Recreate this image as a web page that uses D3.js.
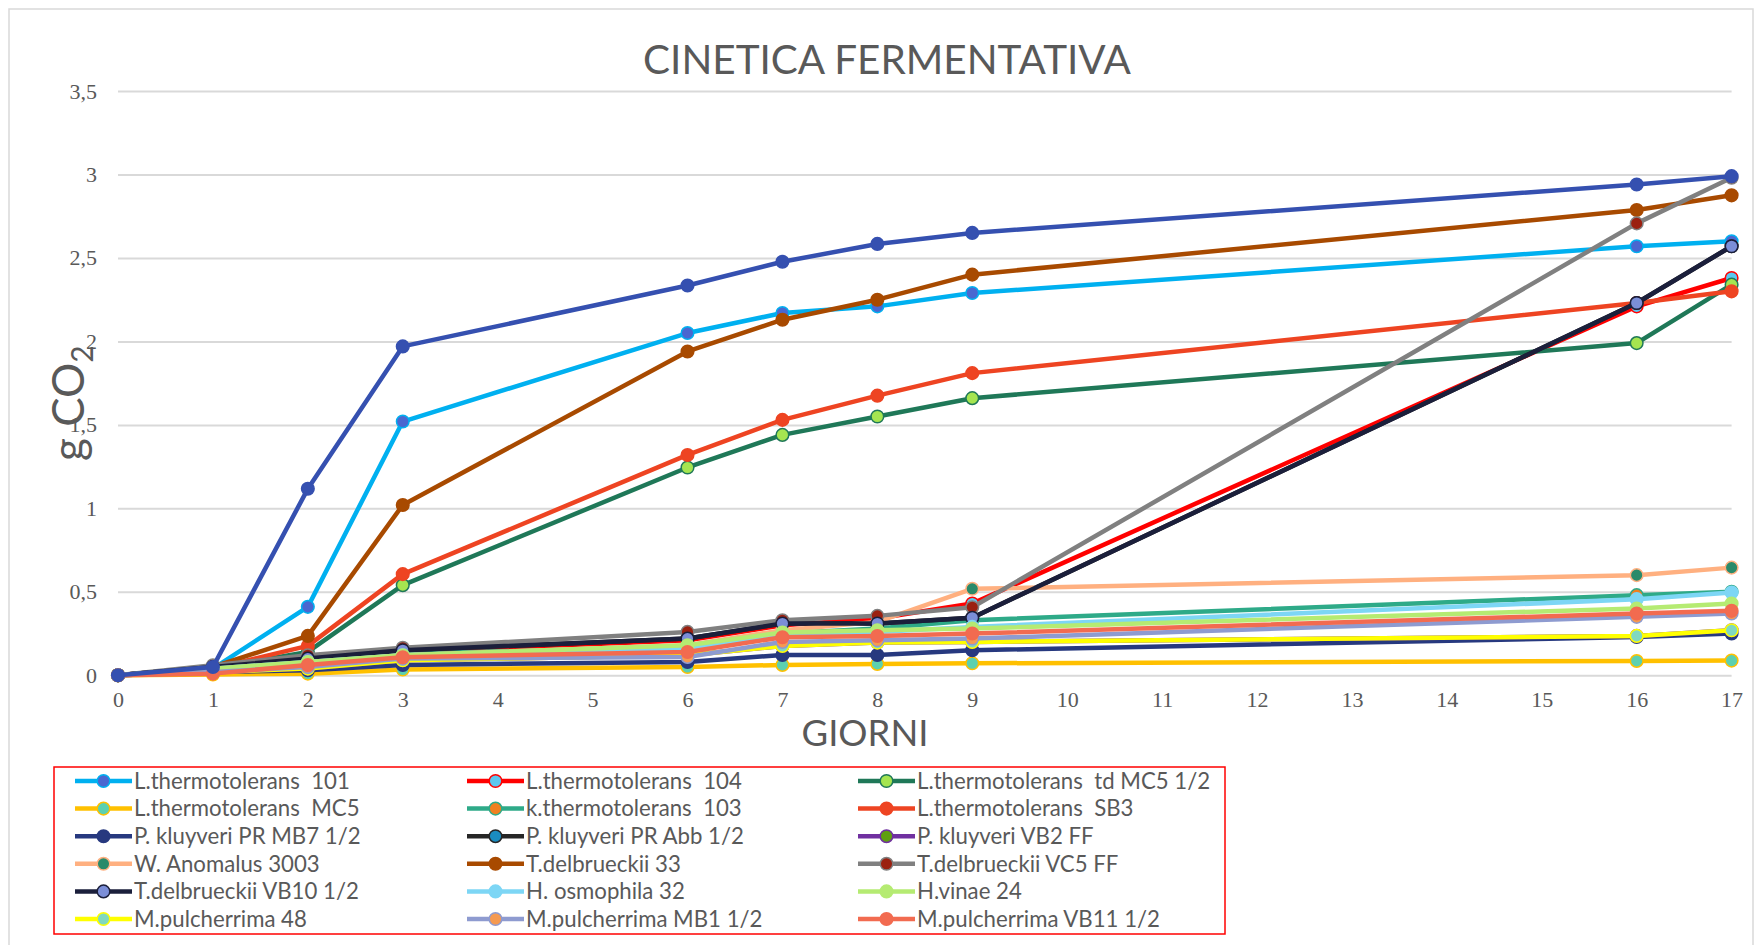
<!DOCTYPE html>
<html><head><meta charset="utf-8">
<script src="https://cdn.jsdelivr.net/npm/d3@7"></script>
<style>body{margin:0;background:#fff;overflow:hidden} text{white-space:pre}</style>
</head><body><svg id="c" width="1762" height="945"></svg>
<script>
// ---------- data ----------
const days = [0, 1, 2, 3, 6, 7, 8, 9, 16, 17];
const xTicks = d3.range(0, 18);
const yTicks = [0, 0.5, 1, 1.5, 2, 2.5, 3, 3.5];
const yTickLabels = ["0", "0,5", "1", "1,5", "2", "2,5", "3", "3,5"];

const names = [
  "L.thermotolerans  101", "L.thermotolerans  104", "L.thermotolerans  td MC5 1/2",
  "L.thermotolerans  MC5", "k.thermotolerans  103", "L.thermotolerans  SB3",
  "P. kluyveri PR MB7 1/2", "P. kluyveri PR Abb 1/2", "P. kluyveri VB2 FF",
  "W. Anomalus 3003", "T.delbrueckii 33", "T.delbrueckii VC5 FF",
  "T.delbrueckii VB10 1/2", "H. osmophila 32", "H.vinae 24",
  "M.pulcherrima 48", "M.pulcherrima MB1 1/2", "M.pulcherrima VB11 1/2"
];
const lt101   = [0, 0.04, 0.41, 1.52, 2.05, 2.17, 2.21, 2.29, 2.57, 2.60];
const lt104   = [0, 0.03, 0.10, 0.14, 0.21, 0.30, 0.34, 0.43, 2.21, 2.38];
const ltMC5h  = [0, 0.04, 0.14, 0.54, 1.245, 1.44, 1.55, 1.66, 1.99, 2.34];
const ltMC5   = [0, 0.005, 0.01, 0.035, 0.05, 0.062, 0.068, 0.072, 0.086, 0.088];
const kt103   = [0, 0.03, 0.09, 0.13, 0.17, 0.25, 0.28, 0.33, 0.48, 0.50];
const ltSB3   = [0, 0.04, 0.176, 0.606, 1.32, 1.53, 1.675, 1.81, 2.23, 2.30];
const pkMB7   = [0, 0.02, 0.03, 0.062, 0.08, 0.122, 0.122, 0.15, 0.23, 0.25];
const pkAbb   = [0, 0.05, 0.10, 0.15, 0.22, 0.31, 0.31, 0.345, 2.23, 2.57];
const pkVB2   = [0, 0.02, 0.04, 0.09, 0.12, 0.176, 0.196, 0.20, 0.236, 0.27];
const wa3003  = [0, 0.03, 0.08, 0.12, 0.18, 0.27, 0.32, 0.518, 0.60, 0.645];
const td33    = [0, 0.05, 0.236, 1.02, 1.94, 2.13, 2.25, 2.40, 2.787, 2.875];
const tdVC5   = [0, 0.06, 0.12, 0.165, 0.26, 0.33, 0.356, 0.408, 2.707, 2.98];
const tdVB10  = [0, 0.05, 0.10, 0.15, 0.22, 0.31, 0.31, 0.345, 2.23, 2.57];
const ho32    = [0, 0.04, 0.08, 0.12, 0.16, 0.24, 0.26, 0.29, 0.456, 0.496];
const hv24    = [0, 0.04, 0.08, 0.12, 0.18, 0.256, 0.27, 0.28, 0.40, 0.43];
const mp48    = [0, 0.02, 0.04, 0.09, 0.12, 0.176, 0.196, 0.20, 0.236, 0.27];
const mpMB1   = [0, 0.02, 0.05, 0.10, 0.11, 0.20, 0.21, 0.22, 0.35, 0.37];
const mpVB11  = [0, 0.01, 0.062, 0.108, 0.14, 0.228, 0.235, 0.25, 0.37, 0.386];
// series drawn in the plot without a legend entry
const unlabeled = [0, 0.05, 1.117, 1.97, 2.335, 2.477, 2.584, 2.65, 2.94, 2.99];

const values = [lt101, lt104, ltMC5h, ltMC5, kt103, ltSB3, pkMB7, pkAbb, pkVB2,
  wa3003, td33, tdVC5, tdVB10, ho32, hv24, mp48, mpMB1, mpVB11];
const lineColors = ["#00B0F0", "#FF0000", "#1F7858", "#FFC000", "#2EAA88", "#EE4422",
  "#27397F", "#262626", "#7030A0", "#FFB080", "#A84A00", "#808080",
  "#1B1F3B", "#7DD6F5", "#B5EB72", "#FFFF00", "#8E9BD0", "#F26B50"];
const markerFills = ["#4A67D0", "#5BC8F0", "#A5E550", "#5CD0B0", "#F08020", "#EE4422",
  "#27397F", "#1A8CC0", "#5FA010", "#2A8A6A", "#A84A00", "#9B2010",
  "#7B8ED8", "#7DD6F5", "#B5EB72", "#80D8C0", "#F59A50", "#F26B50"];
const unlabeledColor = "#3550B0";

// ---------- layout ----------
const svg = d3.select("#c");
const x = d3.scaleLinear().domain([0, 17]).range([118, 1731.6]);
const y = d3.scaleLinear().domain([0, 3.5]).range([675.3, 91]);
const grey = "#595959";

// outer frame
svg.append("rect").attr("x", 9).attr("y", 9).attr("width", 1744).attr("height", 950)
  .attr("fill", "#fff").attr("stroke", "#D9D9D9").attr("stroke-width", 1.5);

// gridlines
const gy = svg.append("g").attr("transform", `translate(${x(0)},0)`)
  .call(d3.axisLeft(y).tickValues(yTicks).tickSize(-(x(17) - x(0))).tickFormat(""));
gy.select(".domain").remove();
gy.selectAll("line").attr("stroke", "#D9D9D9").attr("stroke-width", 2);

// y tick labels
const yl = svg.append("g").attr("transform", `translate(97,0)`)
  .call(d3.axisLeft(y).tickValues(yTicks).tickSize(0).tickPadding(0)
    .tickFormat((d, i) => yTickLabels[i]));
yl.select(".domain").remove();
yl.selectAll("text").attr("font-family", "Liberation Serif").attr("font-size", 22)
  .attr("fill", grey).attr("dy", "0.32em");

// x tick labels
const xl = svg.append("g").attr("transform", `translate(0,${y(0)})`)
  .call(d3.axisBottom(x).tickValues(xTicks).tickSize(0).tickPadding(16).tickFormat(d3.format("d")));
xl.select(".domain").remove();
xl.selectAll("text").attr("font-family", "Liberation Serif").attr("font-size", 22).attr("fill", grey);

function fit(sel, target) {
  const w = sel.node().getComputedTextLength();
  const fs = parseFloat(sel.attr("font-size"));
  sel.attr("font-size", fs * target / w);
}

// title
const title = svg.append("text").attr("x", 887).attr("y", 74).attr("text-anchor", "middle")
  .attr("font-family", "Lato").attr("font-size", 40).attr("fill", grey).text("CINETICA FERMENTATIVA");
fit(title, 488);

// x axis title
const xt = svg.append("text").attr("x", 865).attr("y", 746).attr("text-anchor", "middle")
  .attr("font-family", "Lato").attr("font-size", 40).attr("fill", grey).text("GIORNI");
fit(xt, 127);

// y axis title
const yt = svg.append("text").attr("transform", "translate(84,461) rotate(-90)")
  .attr("font-family", "Lato").attr("font-size", 44).attr("fill", grey);
yt.append("tspan").text("g CO");
yt.append("tspan").attr("font-size", 30).attr("dy", 9).text("2");

// ---------- series ----------
const line = d3.line().x((d, i) => x(days[i])).y(d => y(d));
const plot = svg.append("g");
function drawSeries(vals, lc, mf, mstroke) {
  const g = plot.append("g");
  g.append("path").attr("d", line(vals)).attr("fill", "none").attr("stroke", lc)
    .attr("stroke-width", 4.5).attr("stroke-linejoin", "round");
  g.selectAll("circle").data(vals).join("circle")
    .attr("cx", (d, i) => x(days[i])).attr("cy", d => y(d)).attr("r", 6.3)
    .attr("fill", mf).attr("stroke", mstroke).attr("stroke-width", 1.5);
}
values.forEach((v, i) => drawSeries(v, lineColors[i], markerFills[i], lineColors[i]));
drawSeries(unlabeled, unlabeledColor, unlabeledColor, unlabeledColor);

// ---------- legend ----------
const lg = svg.append("g");
lg.append("rect").attr("x", 54).attr("y", 767).attr("width", 1171).attr("height", 167)
  .attr("fill", "none").attr("stroke", "#FF0000").attr("stroke-width", 1.5);
const colX = [75, 467, 858];
let legendFs = 20;
names.forEach((n, i) => {
  const col = i % 3, row = Math.floor(i / 3);
  const lx = colX[col], ly = 781 + row * 27.6;
  const it = lg.append("g").attr("transform", `translate(${lx},${ly})`);
  it.append("line").attr("x1", 0).attr("x2", 57).attr("y1", 0).attr("y2", 0)
    .attr("stroke", lineColors[i]).attr("stroke-width", 4.5);
  it.append("circle").attr("cx", 28.5).attr("cy", 0).attr("r", 6.3)
    .attr("fill", markerFills[i]).attr("stroke", lineColors[i]).attr("stroke-width", 1.5);
  it.append("text").attr("class", "lt").attr("x", 59).attr("y", 0).attr("dy", "0.35em")
    .attr("font-family", "Lato").attr("font-size", legendFs).attr("fill", grey).text(n);
});
const first = lg.select("text.lt");
const w0 = first.node().getComputedTextLength();
lg.selectAll("text.lt").attr("font-size", legendFs * 216 / w0);
</script></body></html>
